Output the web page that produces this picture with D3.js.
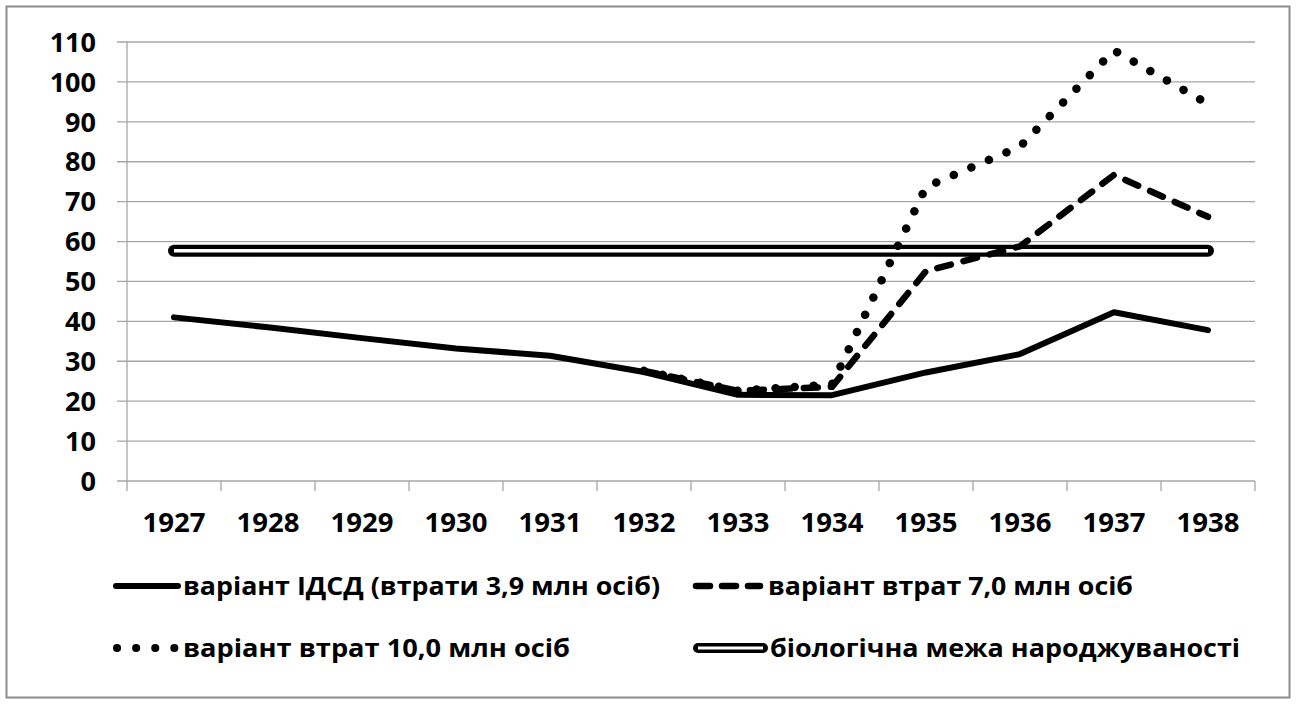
<!DOCTYPE html>
<html><head><meta charset="utf-8">
<script src="https://cdn.jsdelivr.net/npm/d3@7"></script>
<style>body{margin:0;background:#fff}svg{display:block}</style>
</head><body>
<svg id="c" width="1297" height="704"></svg>
<script>
const years = ["1927","1928","1929","1930","1931","1932","1933","1934","1935","1936","1937","1938"];
const seriesIDSD = [41, 38.5, 35.8, 33.2, 31.4, 27.3, 21.6, 21.5, 27.2, 31.8, 42.3, 37.8];
const series7 = [null, null, null, null, null, 27.6, 22.6, 23.6, 52.6, 58.8, 76.7, 66.2];
const series10 = [null, null, null, null, null, 27.6, 22.6, 24.2, 73.7, 83.8, 107.9, 94.5];
const bioLimit = [57.7, 57.7, 57.7, 57.7, 57.7, 57.7, 57.7, 57.7, 57.7, 57.7, 57.7, 57.7];
const yTicks = [0,10,20,30,40,50,60,70,80,90,100,110];
const legendLabels = ["варіант ІДСД (втрати 3,9 млн осіб)","варіант втрат 7,0 млн осіб","варіант втрат 10,0 млн осіб","біологічна межа народжуваності"];

const svg = d3.select("#c");
const font = "'Open Sans', 'Noto Sans', sans-serif";
svg.append("rect").attr("x",6.5).attr("y",6.5).attr("width",1283).attr("height",691)
  .attr("fill","#fff").attr("stroke","#8c8c8c").attr("stroke-width",2);

const L=127, R=1255, T=42, B=481;
const x = d3.scaleBand().domain(years).range([L,R]);
const y = d3.scaleLinear().domain([0,110]).range([B,T]);
const gridC="#a6a6a6";

svg.append("g").selectAll("line").data(yTicks).join("line")
  .attr("x1",L-10).attr("x2",R).attr("y1",d=>y(d)).attr("y2",d=>y(d))
  .attr("stroke",gridC).attr("stroke-width",1.3);
svg.append("line").attr("x1",L).attr("x2",L).attr("y1",T).attr("y2",B+10).attr("stroke",gridC).attr("stroke-width",1.3);
const bounds = years.map(d=>x(d)).concat([R]);
svg.append("g").selectAll("line").data(bounds.slice(1)).join("line")
  .attr("x1",d=>d).attr("x2",d=>d).attr("y1",B).attr("y2",B+10)
  .attr("stroke",gridC).attr("stroke-width",1.3);

svg.append("g").selectAll("text").data(yTicks).join("text")
  .attr("x",96).attr("y",d=>y(d)).attr("dy","0.36em").attr("text-anchor","end")
  .attr("font-family",font).attr("font-weight","bold").attr("font-size",27).attr("fill","#000")
  .text(d=>d);
svg.append("g").selectAll("text").data(years).join("text")
  .attr("x",d=>x(d)+x.bandwidth()/2).attr("y",522).attr("dy","0.36em").attr("text-anchor","middle")
  .attr("font-family",font).attr("font-weight","bold").attr("font-size",27.5).attr("fill","#000")
  .text(d=>d);

const cx = d=>x(d)+x.bandwidth()/2;
const line = d3.line().defined(d=>d[1]!=null).x(d=>cx(d[0])).y(d=>y(d[1]));
const zip = arr=>years.map((yr,i)=>[yr,arr[i]]);

svg.append("path").attr("d",line(zip(bioLimit))).attr("fill","none")
  .attr("stroke","#000").attr("stroke-width",12).attr("stroke-linecap","round");
svg.append("path").attr("d",line(zip(bioLimit))).attr("fill","none")
  .attr("stroke","#fff").attr("stroke-width",3.5).attr("stroke-linecap","butt");

svg.append("path").attr("d",line(zip(seriesIDSD))).attr("fill","none")
  .attr("stroke","#000").attr("stroke-width",6).attr("stroke-linecap","round").attr("stroke-linejoin","round");
svg.append("path").attr("d",line(zip(series7))).attr("fill","none")
  .attr("stroke","#000").attr("stroke-width",6.5).attr("stroke-linecap","round").attr("stroke-dasharray","14 13");
svg.append("path").attr("d",line(zip(series10))).attr("fill","none")
  .attr("stroke","#000").attr("stroke-width",8.5).attr("stroke-linecap","round").attr("stroke-dasharray","0.1 19");

const lg = svg.append("g");
const items = [
  {x:113, y:586, w:65, tx:183, tw:477, type:"solid"},
  {x:693, y:586, w:70, tx:768, tw:365, type:"dash"},
  {x:113, y:648, w:65, tx:183, tw:387, type:"dot"},
  {x:693, y:648, w:75, tx:770, tw:470, type:"bio"}
];
items.forEach((it,i)=>{
  if(it.type==="solid"){
    lg.append("path").attr("d",`M${it.x+3},${it.y}H${it.x+it.w}`).attr("stroke","#000").attr("stroke-width",6).attr("stroke-linecap","round");
  } else if(it.type==="dash"){
    lg.append("path").attr("d",`M${it.x+3},${it.y}H${it.x+it.w-3}`).attr("stroke","#000").attr("stroke-width",6.5).attr("stroke-linecap","round").attr("stroke-dasharray","14 12");
  } else if(it.type==="dot"){
    lg.append("path").attr("d",`M${it.x+4},${it.y}H${it.x+it.w}`).attr("stroke","#000").attr("stroke-width",8).attr("stroke-linecap","round").attr("stroke-dasharray","0.1 19");
  } else {
    lg.append("path").attr("d",`M${it.x+5},${it.y}H${it.x+it.w-5}`).attr("stroke","#000").attr("stroke-width",10).attr("stroke-linecap","round");
    lg.append("path").attr("d",`M${it.x+5},${it.y}H${it.x+it.w-5}`).attr("stroke","#fff").attr("stroke-width",3);
  }
  lg.append("text").attr("x",it.tx).attr("y",it.y).attr("dy","0.36em")
    .attr("font-family",font).attr("font-weight","bold").attr("font-size",25).attr("fill","#000")
    .attr("textLength",it.tw).attr("lengthAdjust","spacingAndGlyphs")
    .text(legendLabels[i]);
});
</script>
</body></html>
